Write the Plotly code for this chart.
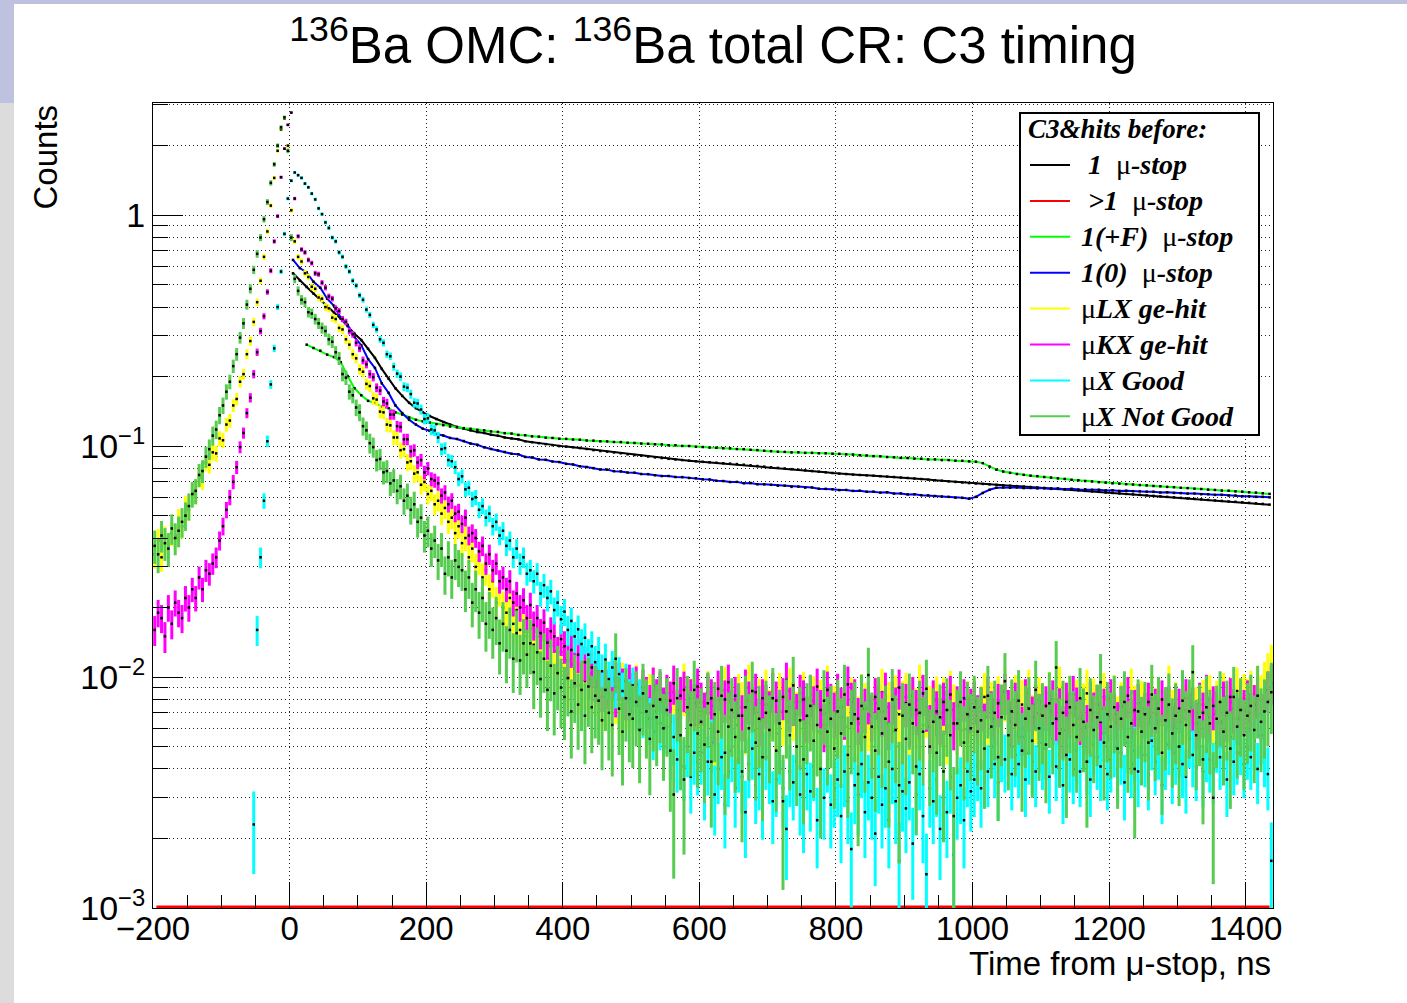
import math
import plotly.graph_objects as go

# ---------------------------------------------------------------- text
TITLE = "<sup>136</sup>Ba OMC: <sup>136</sup>Ba total CR: C3 timing"
X_TITLE = "Time from μ-stop, ns"
Y_TITLE = "Counts"
LEGEND_TITLE = "C3&amp;hits before:"
SERIES_NAMES = [" 1  μ-stop", " >1  μ-stop", "1(+F)  μ-stop", "1(0)  μ-stop",
                "μLX ge-hit", "μKX ge-hit", "μX Good", "μX Not Good"]
SERIES_COLORS = ["#000000", "#ff0000", "#00ff00", "#0000ff",
                 "#ffff00", "#ff00ff", "#00ffff", "#56cc50"]

# ---------------------------------------------------------------- axes
X_RANGE = [-200, 1440]
Y_MIN = 1e-3
Y_MAX = 3.06
Y_TICKS = [1e-3, 1e-2, 1e-1, 1]
Y_TICK_TEXT = ["10<sup>−3</sup>", "10<sup>−2</sup>", "10<sup>−1</sup>", "1"]

# ---------------------------------------------------------------- data
# fine histograms: 5 ns bins from -200 ns
FINE_START = -200.0
FINE_WIDTH = 5.0
# smooth histograms: 10 ns bins from 0 ns
COARSE_START = 0.0
COARSE_WIDTH = 10.0
# >1 mu-stop histogram: 10 ns bins from -200 ns
MULTI_START = -200.0
MULTI_WIDTH = 10.0

# "1 mu-stop"
ONE_STOP = [
    0.560, 0.521, 0.489, 0.458, 0.431, 0.404, 0.379, 0.356, 0.331, 0.307,
    0.288, 0.264, 0.241, 0.216, 0.196, 0.178, 0.165, 0.154, 0.146, 0.140,
    0.135, 0.131, 0.127, 0.124, 0.121, 0.119, 0.117, 0.115, 0.114, 0.112,
    0.111, 0.109, 0.108, 0.107, 0.105, 0.104, 0.103, 0.102, 0.101, 0.100,
    0.0995, 0.0989, 0.0981, 0.0972, 0.0961, 0.0952, 0.0946, 0.0939, 0.0931, 0.0922,
    0.0915, 0.0909, 0.0901, 0.0894, 0.0888, 0.0881, 0.0875, 0.0870, 0.0865, 0.0860,
    0.0855, 0.0851, 0.0847, 0.0843, 0.0840, 0.0836, 0.0831, 0.0826, 0.0820, 0.0815,
    0.0810, 0.0805, 0.0800, 0.0795, 0.0790, 0.0785, 0.0780, 0.0775, 0.0770, 0.0765,
    0.0760, 0.0757, 0.0753, 0.0750, 0.0747, 0.0744, 0.0741, 0.0738, 0.0735, 0.0731,
    0.0728, 0.0724, 0.0720, 0.0716, 0.0712, 0.0708, 0.0704, 0.0700, 0.0696, 0.0692,
    0.0689, 0.0686, 0.0683, 0.0680, 0.0677, 0.0674, 0.0671, 0.0668, 0.0665, 0.0662,
    0.0659, 0.0656, 0.0653, 0.0650, 0.0647, 0.0644, 0.0640, 0.0637, 0.0634, 0.0630,
    0.0627, 0.0624, 0.0621, 0.0618, 0.0615, 0.0612, 0.0609, 0.0606, 0.0603, 0.0600,
    0.0597, 0.0594, 0.0591, 0.0588, 0.0585, 0.0582, 0.0579, 0.0576, 0.0574, 0.0571,
    0.0568, 0.0565, 0.0562, 0.0558,
]

# ">1 mu-stop" (empty histogram)
MULTI_STOP = [0.0] * 164

# "1(+F) mu-stop"
PLUS_F = [
    None, None, 0.275, 0.266, 0.259, 0.249, 0.243, 0.231, 0.201, 0.178,
    0.166, 0.157, 0.154, 0.148, 0.146, 0.140, 0.137, 0.133, 0.130, 0.128,
    0.1265, 0.1245, 0.1232, 0.1216, 0.1208, 0.1196, 0.1188, 0.1176, 0.1170, 0.1158,
    0.1152, 0.1138, 0.1133, 0.1118, 0.1114, 0.1102, 0.1099, 0.1088, 0.1085, 0.1077,
    0.1075, 0.1068, 0.1066, 0.1058, 0.1056, 0.1049, 0.1048, 0.1042, 0.1041, 0.1034,
    0.1032, 0.1026, 0.1024, 0.1018, 0.1017, 0.1009, 0.1009, 0.1002, 0.1001, 0.0994,
    0.0991, 0.0986, 0.0984, 0.0979, 0.0978, 0.0971, 0.0970, 0.0964, 0.0961, 0.0955,
    0.0951, 0.0946, 0.0944, 0.0939, 0.0940, 0.0935, 0.0935, 0.0931, 0.0931, 0.0927,
    0.0926, 0.0921, 0.0919, 0.0913, 0.0911, 0.0905, 0.0903, 0.0897, 0.0895, 0.0889,
    0.0888, 0.0883, 0.0882, 0.0876, 0.0876, 0.0870, 0.0870, 0.0865, 0.0864, 0.0859,
    0.0856, 0.0844, 0.0815, 0.0791, 0.0776, 0.0766, 0.0757, 0.0751, 0.0745, 0.0741,
    0.0735, 0.0731, 0.0725, 0.0721, 0.0715, 0.0711, 0.0706, 0.0703, 0.0698, 0.0695,
    0.0690, 0.0688, 0.0684, 0.0682, 0.0678, 0.0676, 0.0672, 0.0670, 0.0666, 0.0664,
    0.0660, 0.0658, 0.0654, 0.0652, 0.0648, 0.0646, 0.0642, 0.0641, 0.0637, 0.0635,
    0.0631, 0.0629, 0.0625, 0.0621,
]

# "1(0) mu-stop"
ZERO_STOP = [
    0.640, 0.590, 0.565, 0.515, 0.485, 0.435, 0.405, 0.360, 0.335, 0.297,
    0.273, 0.238, 0.218, 0.187, 0.170, 0.150, 0.139, 0.130, 0.124, 0.119,
    0.1165, 0.1128, 0.1112, 0.1085, 0.1074, 0.1052, 0.1026, 0.1013, 0.0988, 0.0972,
    0.0958, 0.0943, 0.0927, 0.0922, 0.0898, 0.0893, 0.0876, 0.0872, 0.0858, 0.0853,
    0.0838, 0.0833, 0.0818, 0.0812, 0.0803, 0.0792, 0.0791, 0.0779, 0.0777, 0.0768,
    0.0767, 0.0757, 0.0756, 0.0748, 0.0742, 0.0742, 0.0735, 0.0734, 0.0728, 0.0726,
    0.0718, 0.0717, 0.0708, 0.0706, 0.0699, 0.0700, 0.0691, 0.0692, 0.0684, 0.0683,
    0.0680, 0.0674, 0.0674, 0.0666, 0.0668, 0.0661, 0.0662, 0.0654, 0.0653, 0.0650,
    0.0645, 0.0646, 0.0640, 0.0641, 0.0635, 0.0635, 0.0629, 0.0631, 0.0623, 0.0624,
    0.0618, 0.0619, 0.0613, 0.0612, 0.0608, 0.0605, 0.0603, 0.0598, 0.0597, 0.0592,
    0.0603, 0.0627, 0.0647, 0.0660, 0.0662, 0.0660, 0.0662, 0.0658, 0.0659, 0.0656,
    0.0657, 0.0653, 0.0655, 0.0651, 0.0653, 0.0649, 0.0650, 0.0647, 0.0647, 0.0643,
    0.0644, 0.0640, 0.0641, 0.0638, 0.0637, 0.0635, 0.0634, 0.0630, 0.0631, 0.0627,
    0.0626, 0.0623, 0.0623, 0.0619, 0.0619, 0.0615, 0.0615, 0.0611, 0.0611, 0.0607,
    0.0606, 0.0603, 0.0603, 0.0600,
]

# "muLX ge-hit"
MU_LX = [
    0.034, 0.039, 0.033, 0.040, 0.037, 0.042, 0.041, 0.048, 0.045, 0.055,
    0.053, 0.063, 0.062, 0.073, 0.071, 0.085, 0.083, 0.094, 0.093, 0.108,
    0.106, 0.124, 0.129, 0.150, 0.160, 0.190, 0.205, 0.250, 0.285, 0.345,
    0.42, 0.52, 0.66, 0.85, 1.10, 1.45, 1.90, 2.35, 2.62, 2.00,
    1.05, 0.77, 0.66, 0.63, 0.56, 0.54, 0.49, 0.48, 0.44, 0.435,
    0.40, 0.395, 0.36, 0.355, 0.325, 0.32, 0.29, 0.275, 0.25, 0.24,
    0.215, 0.21, 0.186, 0.182, 0.161, 0.159, 0.141, 0.140, 0.124, 0.123,
    0.109, 0.109, 0.096, 0.097, 0.085, 0.086, 0.076, 0.077, 0.068, 0.070,
    0.062, 0.064, 0.056, 0.058, 0.051, 0.054, 0.047, 0.049, 0.042, 0.045,
    0.038, 0.040, 0.033, 0.036, 0.030, 0.032, 0.027, 0.029, 0.024, 0.026,
    0.021, 0.024, 0.020, 0.019, 0.022, 0.017, 0.0195, 0.016, 0.0175, 0.015,
    0.0162, 0.0138, 0.0150, 0.0126, 0.0145, 0.0121, 0.0136, 0.0130, 0.0112, 0.0128,
    0.0120, 0.0098, 0.0114, 0.0108, 0.0092, 0.0110, 0.0096, 0.0088, 0.0104, 0.0091,
    0.0099, 0.0082, 0.0094, 0.0079, 0.0097, 0.0085, 0.0076, 0.0092, 0.0081, 0.0088,
    0.0079, 0.0090, 0.0072, 0.0084, 0.0068, 0.0081, 0.0087, 0.0070, 0.0078, 0.0065,
    0.0080, 0.0073, 0.0086, 0.0066, 0.0075, 0.0091, 0.0069, 0.0077, 0.0062, 0.0083,
    0.0071, 0.0064, 0.0084, 0.0075, 0.0058, 0.0079, 0.0069, 0.0088, 0.0067, 0.0073,
    0.0062, 0.0081, 0.0074, 0.0066, 0.0090, 0.0070, 0.0059, 0.0077, 0.0072, 0.0085,
    0.0068, 0.0075, 0.0057, 0.0082, 0.0071, 0.0064, 0.0087, 0.0074, 0.0066, 0.0078,
    0.0083, 0.0063, 0.0072, 0.0079, 0.0058, 0.0076, 0.0069, 0.0089, 0.0065, 0.0071,
    0.0074, 0.0067, 0.0085, 0.0061, 0.0078, 0.0070, 0.0063, 0.0081, 0.0073, 0.0068,
    0.0060, 0.0077, 0.0071, 0.0086, 0.0066, 0.0074, 0.0058, 0.0080, 0.0069, 0.0075,
    0.0082, 0.0065, 0.0073, 0.0069, 0.0090, 0.0062, 0.0076, 0.0071, 0.0064, 0.0079,
    0.0070, 0.0078, 0.0061, 0.0084, 0.0072, 0.0066, 0.0080, 0.0059, 0.0075, 0.0068,
    0.0077, 0.0063, 0.0071, 0.0082, 0.0067, 0.0074, 0.0060, 0.0079, 0.0070, 0.0087,
    0.0066, 0.0073, 0.0080, 0.0062, 0.0076, 0.0069, 0.0085, 0.0064, 0.0072, 0.0078,
    0.0071, 0.0059, 0.0083, 0.0070, 0.0065, 0.0088, 0.0074, 0.0067, 0.0079, 0.0062,
    0.0076, 0.0068, 0.0073, 0.0085, 0.0061, 0.0077, 0.0070, 0.0064, 0.0082, 0.0072,
    0.0067, 0.0080, 0.0063, 0.0074, 0.0078, 0.0060, 0.0086, 0.0071, 0.0066, 0.0075,
    0.0073, 0.0065, 0.0081, 0.0069, 0.0077, 0.0062, 0.0070, 0.0089, 0.0068, 0.0074,
    0.0064, 0.0079, 0.0072, 0.0067, 0.0084, 0.0070, 0.0061, 0.0076, 0.0073, 0.0080,
    0.0069, 0.0075, 0.0063, 0.0082, 0.0071, 0.0078, 0.0066, 0.0087, 0.0074, 0.0081,
    0.0077, 0.0084, 0.0072, 0.0089, 0.0080, 0.0093, 0.0102, 0.0112,
]

# "muKX ge-hit"
MU_KX = [
    0.016, 0.019, 0.018, 0.015, 0.020, 0.017, 0.021, 0.019, 0.018, 0.022,
    0.020, 0.024, 0.022, 0.027, 0.024, 0.029, 0.028, 0.031, 0.033, 0.039,
    0.045, 0.053, 0.060, 0.070, 0.081, 0.099, 0.114, 0.139, 0.162, 0.205,
    0.255, 0.315, 0.365, 0.465, 0.575, 0.77, 0.99, 1.46, 1.94, 2.46,
    2.78, 1.18, 0.81, 0.71, 0.69, 0.64, 0.62, 0.56, 0.555, 0.51,
    0.485, 0.445, 0.435, 0.395, 0.385, 0.355, 0.345, 0.315, 0.305, 0.28,
    0.265, 0.235, 0.226, 0.205, 0.199, 0.179, 0.174, 0.156, 0.153, 0.137,
    0.137, 0.122, 0.121, 0.107, 0.107, 0.095, 0.096, 0.085, 0.087, 0.077,
    0.080, 0.072, 0.071, 0.069, 0.061, 0.063, 0.056, 0.058, 0.051, 0.052,
    0.046, 0.049, 0.041, 0.042, 0.040, 0.035, 0.037, 0.031, 0.034, 0.029,
    0.031, 0.026, 0.027, 0.024, 0.026, 0.021, 0.023, 0.020, 0.0215, 0.018,
    0.0205, 0.0168, 0.0180, 0.0155, 0.0172, 0.0141, 0.0158, 0.0150, 0.0128, 0.0146,
    0.0136, 0.0118, 0.0131, 0.0109, 0.0125, 0.0104, 0.0116, 0.0098, 0.0110, 0.0096,
    0.0108, 0.0088, 0.0103, 0.0090, 0.0099, 0.0084, 0.0097, 0.0091, 0.0082, 0.0095,
    0.0087, 0.0093, 0.0079, 0.0090, 0.0083, 0.0076, 0.0092, 0.0081, 0.0088, 0.0074,
    0.0085, 0.0079, 0.0094, 0.0072, 0.0083, 0.0088, 0.0069, 0.0081, 0.0077, 0.0091,
    0.0078, 0.0070, 0.0086, 0.0081, 0.0066, 0.0089, 0.0075, 0.0080, 0.0095, 0.0072,
    0.0083, 0.0077, 0.0068, 0.0090, 0.0079, 0.0073, 0.0086, 0.0065, 0.0081, 0.0076,
    0.0071, 0.0087, 0.0079, 0.0064, 0.0082, 0.0097, 0.0074, 0.0078, 0.0069, 0.0085,
    0.0080, 0.0067, 0.0084, 0.0075, 0.0091, 0.0072, 0.0062, 0.0088, 0.0077, 0.0070,
    0.0086, 0.0074, 0.0069, 0.0093, 0.0078, 0.0081, 0.0066, 0.0084, 0.0073, 0.0079,
    0.0068, 0.0082, 0.0076, 0.0071, 0.0087, 0.0063, 0.0079, 0.0074, 0.0090, 0.0070,
    0.0077, 0.0065, 0.0083, 0.0072, 0.0069, 0.0085, 0.0074, 0.0061, 0.0080, 0.0071,
    0.0066, 0.0078, 0.0072, 0.0084, 0.0063, 0.0075, 0.0070, 0.0081, 0.0067, 0.0073,
    0.0079, 0.0068, 0.0074, 0.0062, 0.0083, 0.0071, 0.0066, 0.0077, 0.0069, 0.0086,
    0.0072, 0.0064, 0.0078, 0.0070, 0.0060, 0.0081, 0.0074, 0.0067, 0.0076, 0.0069,
    0.0063, 0.0075, 0.0071, 0.0080, 0.0066, 0.0073, 0.0059, 0.0078, 0.0070, 0.0084,
    0.0074, 0.0066, 0.0072, 0.0061, 0.0079, 0.0070, 0.0076, 0.0064, 0.0073, 0.0068,
    0.0081, 0.0069, 0.0063, 0.0075, 0.0071, 0.0083, 0.0065, 0.0072, 0.0077, 0.0062,
    0.0070, 0.0078, 0.0067, 0.0073, 0.0064, 0.0080, 0.0071, 0.0075, 0.0060, 0.0076,
    0.0073, 0.0066, 0.0081, 0.0069, 0.0074, 0.0063, 0.0078, 0.0070, 0.0085, 0.0067,
    0.0075, 0.0071, 0.0064, 0.0079, 0.0068, 0.0082, 0.0073, 0.0066, 0.0077, 0.0072,
    0.0080, 0.0070, 0.0076, 0.0083, 0.0069, 0.0078, 0.0088, 0.0094,
]

# "muX Good"
MU_GOOD = [
    0, 0, 0, 0, 0, 0, 0, 0, 0, 0,
    0, 0, 0, 0, 0, 0, 0, 0, 0, 0,
    0, 0, 0, 0, 0, 0, 0, 0, 0, 0.0023,
    0.016, 0.033, 0.058, 0.105, 0.185, 0.265, 0.40, 0.57, 0.83, 1.18,
    1.41, 1.53, 1.49, 1.45, 1.37, 1.32, 1.24, 1.17, 1.07, 1.01,
    0.93, 0.88, 0.80, 0.77, 0.69, 0.66, 0.60, 0.57, 0.52, 0.495,
    0.45, 0.43, 0.39, 0.37, 0.335, 0.32, 0.29, 0.28, 0.25, 0.245,
    0.221, 0.206, 0.200, 0.181, 0.179, 0.168, 0.154, 0.153, 0.144, 0.131,
    0.132, 0.118, 0.117, 0.109, 0.097, 0.098, 0.087, 0.086, 0.081, 0.072,
    0.074, 0.065, 0.066, 0.059, 0.060, 0.053, 0.055, 0.049, 0.051, 0.045,
    0.047, 0.041, 0.043, 0.037, 0.039, 0.033, 0.036, 0.031, 0.033, 0.028,
    0.029, 0.026, 0.028, 0.023, 0.025, 0.022, 0.0235, 0.0195, 0.021, 0.0178,
    0.0192, 0.0160, 0.0175, 0.0150, 0.0161, 0.0139, 0.0148, 0.0125, 0.0136, 0.0116,
    0.0128, 0.0106, 0.0119, 0.0098, 0.0110, 0.0091, 0.0103, 0.0087, 0.0096, 0.0081,
    0.0092, 0.0075, 0.0081, 0.0070, 0.0079, 0.0066, 0.0058, 0.0071, 0.0063, 0.0052,
    0.0061, 0.0049, 0.0055, 0.0044, 0.0053, 0.0041, 0.0050, 0.0037, 0.0047, 0.0043,
    0.0047, 0.0035, 0.0043, 0.0052, 0.0031, 0.0040, 0.0045, 0.0028, 0.0039, 0.0048,
    0.0033, 0.0044, 0.0037, 0.0026, 0.0042, 0.0049, 0.0034, 0.0038, 0.0030, 0.0045,
    0.0040, 0.0029, 0.0036, 0.0047, 0.0033, 0.0022, 0.0039, 0.0035, 0.0043, 0.0031,
    0.0027, 0.0038, 0.0032, 0.0041, 0.0024, 0.0035, 0.0030, 0.0044, 0.0028, 0.0033,
    0.0036, 0.0025, 0.0039, 0.0029, 0.0018, 0.0034, 0.0031, 0.0042, 0.0026, 0.0035,
    0.0030, 0.0021, 0.0037, 0.0028, 0.0033, 0.0024, 0.0040, 0.0029, 0.0016, 0.0032,
    0.0027, 0.0035, 0.0019, 0.0031, 0.0038, 0.0025, 0.0014, 0.0033, 0.0029, 0.0036,
    0.0022, 0.0031, 0.0026, 0.0037, 0.0017, 0.0030, 0.0034, 0.0024, 0.0039, 0.0032,
    0.0036, 0.0041, 0.0033, 0.0047, 0.0039, 0.0050, 0.0042, 0.0035, 0.0048, 0.0044,
    0.0051, 0.0038, 0.0046, 0.0042, 0.0055, 0.0036, 0.0047, 0.0043, 0.0039, 0.0052,
    0.0045, 0.0049, 0.0037, 0.0054, 0.0041, 0.0046, 0.0034, 0.0050, 0.0044, 0.0040,
    0.0048, 0.0039, 0.0053, 0.0043, 0.0036, 0.0051, 0.0045, 0.0041, 0.0057, 0.0038,
    0.0044, 0.0050, 0.0040, 0.0047, 0.0035, 0.0052, 0.0042, 0.0048, 0.0039, 0.0055,
    0.0046, 0.0038, 0.0053, 0.0043, 0.0049, 0.0034, 0.0045, 0.0051, 0.0040, 0.0047,
    0.0050, 0.0042, 0.0037, 0.0054, 0.0046, 0.0041, 0.0058, 0.0039, 0.0048, 0.0044,
    0.0040, 0.0052, 0.0045, 0.0049, 0.0036, 0.0055, 0.0043, 0.0047, 0.0051, 0.0042,
    0.0049, 0.0045, 0.0053, 0.0040, 0.0056, 0.0046, 0.0038, 0.0016,
]

# "muX Not Good"
MU_NOTGOOD = [
    0.037, 0.034, 0.041, 0.038, 0.036, 0.044, 0.040, 0.043, 0.047, 0.050,
    0.055, 0.062, 0.064, 0.075, 0.078, 0.090, 0.097, 0.111, 0.118, 0.136,
    0.150, 0.172, 0.190, 0.222, 0.250, 0.295, 0.340, 0.410, 0.480, 0.580,
    0.68, 0.80, 0.96, 1.14, 1.38, 1.66, 2.00, 2.40, 2.65, 1.90,
    0.80, 0.53, 0.47, 0.43, 0.42, 0.38, 0.375, 0.355, 0.34, 0.325,
    0.315, 0.29, 0.283, 0.255, 0.24, 0.205, 0.198, 0.172, 0.166, 0.147,
    0.140, 0.122, 0.117, 0.103, 0.099, 0.087, 0.088, 0.077, 0.078, 0.069,
    0.071, 0.064, 0.067, 0.058, 0.061, 0.053, 0.056, 0.047, 0.049, 0.041,
    0.043, 0.036, 0.039, 0.032, 0.036, 0.028, 0.033, 0.027, 0.032, 0.030,
    0.029, 0.024, 0.027, 0.021, 0.024, 0.019, 0.022, 0.017, 0.019, 0.016,
    0.018, 0.014, 0.017, 0.013, 0.016, 0.012, 0.0155, 0.0118, 0.014, 0.0125,
    0.014, 0.0105, 0.0128, 0.0098, 0.0120, 0.0088, 0.0112, 0.0085, 0.0104, 0.0090,
    0.0082, 0.0099, 0.0071, 0.0094, 0.0076, 0.0088, 0.0068, 0.0091, 0.0074, 0.0083,
    0.0079, 0.0065, 0.0088, 0.0070, 0.0062, 0.0120, 0.0073, 0.0058, 0.0081, 0.0069,
    0.0066, 0.0078, 0.0059, 0.0085, 0.0071, 0.0054, 0.0075, 0.0067, 0.0080, 0.0060,
    0.0072, 0.0048, 0.0031, 0.0081, 0.0056, 0.0036, 0.0074, 0.0062, 0.0088, 0.0057,
    0.0064, 0.0051, 0.0077, 0.0043, 0.0069, 0.0058, 0.0083, 0.0047, 0.0061, 0.0072,
    0.0055, 0.0068, 0.0039, 0.0074, 0.0060, 0.0087, 0.0052, 0.0066, 0.0045, 0.0070,
    0.0059, 0.0081, 0.0048, 0.0063, 0.0029, 0.0071, 0.0056, 0.0092, 0.0050, 0.0065,
    0.0044, 0.0068, 0.0075, 0.0053, 0.0062, 0.0040, 0.0079, 0.0058, 0.0066, 0.0049,
    0.0071, 0.0057, 0.0084, 0.0046, 0.0063, 0.0069, 0.0038, 0.0075, 0.0055, 0.0102,
    0.0061, 0.0048, 0.0073, 0.0057, 0.0066, 0.0043, 0.0080, 0.0059, 0.0034, 0.0068,
    0.0054, 0.0076, 0.0063, 0.0041, 0.0070, 0.0058, 0.0089, 0.0050, 0.0064, 0.0047,
    0.0067, 0.0039, 0.0072, 0.0056, 0.0025, 0.0063, 0.0078, 0.0052, 0.0069, 0.0060,
    0.0074, 0.0058, 0.0065, 0.0049, 0.0083, 0.0061, 0.0070, 0.0045, 0.0067, 0.0096,
    0.0056, 0.0071, 0.0062, 0.0079, 0.0048, 0.0066, 0.0073, 0.0053, 0.0088, 0.0060,
    0.0068, 0.0051, 0.0077, 0.0063, 0.0110, 0.0057, 0.0070, 0.0046, 0.0074, 0.0062,
    0.0055, 0.0081, 0.0064, 0.0043, 0.0072, 0.0059, 0.0067, 0.0095, 0.0052, 0.0069,
    0.0061, 0.0074, 0.0049, 0.0066, 0.0078, 0.0055, 0.0063, 0.0040, 0.0071, 0.0058,
    0.0069, 0.0052, 0.0084, 0.0060, 0.0073, 0.0047, 0.0065, 0.0076, 0.0057, 0.0068,
    0.0050, 0.0079, 0.0062, 0.0071, 0.0105, 0.0056, 0.0067, 0.0044, 0.0074, 0.0063,
    0.0030, 0.0066, 0.0078, 0.0058, 0.0070, 0.0049, 0.0082, 0.0061, 0.0072, 0.0056,
    0.0068, 0.0075, 0.0059, 0.0083, 0.0064, 0.0071, 0.0078, 0.0086,
]

# weight of one count in each normalised histogram (sets Poisson error bars)
COUNT_WEIGHT = {"LX": 6e-4, "KX": 3.5e-4, "GOOD": 3.5e-4, "NOTGOOD": 1e-3}

# ---------------------------------------------------------------- geometry
W, H = 1407, 1003
PL, PR, PT, PB = 153, 1273, 103, 908          # plot-area pixel box


def px_x(px):
    return (px - PL) / (PR - PL)


def px_y(py):
    return (PB - py) / (PB - PT)


def centers(start, width, n):
    return [start + width * (i + 0.5) for i in range(n)]


fig = go.Figure()

x_coarse = centers(COARSE_START, COARSE_WIDTH, len(ONE_STOP))


def smooth_trace(vals, color):
    return go.Scatter(
        x=x_coarse, y=vals, mode="lines+markers", connectgaps=False,
        line=dict(color=color, width=2),
        marker=dict(color="black", size=2.5, symbol="square"),
        hoverinfo="skip")


def noisy_trace(vals, color, weight):
    xs, ys, ep, em = [], [], [], []
    for x, v in zip(centers(FINE_START, FINE_WIDTH, len(vals)), vals):
        if v <= 0:
            continue
        e = math.sqrt(v * weight)
        xs.append(x)
        ys.append(v)
        ep.append(e)
        em.append(min(e, 0.97 * v))
    return go.Scatter(
        x=xs, y=ys, mode="markers",
        marker=dict(color="black", size=2.5, symbol="square"),
        error_y=dict(type="data", symmetric=False, array=ep, arrayminus=em,
                     color=color, thickness=3, width=0),
        hoverinfo="skip")


fig.add_trace(smooth_trace(ONE_STOP, SERIES_COLORS[0]))
x_multi = centers(MULTI_START, MULTI_WIDTH, len(MULTI_STOP))
fig.add_trace(go.Scatter(x=x_multi, y=[max(v, Y_MIN) for v in MULTI_STOP],
                         mode="lines", line=dict(color=SERIES_COLORS[1], width=5),
                         hoverinfo="skip"))
fig.add_trace(smooth_trace(PLUS_F, SERIES_COLORS[2]))
fig.add_trace(smooth_trace(ZERO_STOP, SERIES_COLORS[3]))
fig.add_trace(noisy_trace(MU_LX, SERIES_COLORS[4], COUNT_WEIGHT["LX"]))
fig.add_trace(noisy_trace(MU_KX, SERIES_COLORS[5], COUNT_WEIGHT["KX"]))
fig.add_trace(noisy_trace(MU_GOOD, SERIES_COLORS[6], COUNT_WEIGHT["GOOD"]))
fig.add_trace(noisy_trace(MU_NOTGOOD, SERIES_COLORS[7], COUNT_WEIGHT["NOTGOOD"]))

# ---------------------------------------------------------------- layout
minor_y = [m * 10 ** e for e in (-3, -2, -1, 0) for m in range(2, 10) if m * 10 ** e < Y_MAX]
GRID_DASH = "1px,3px"

fig.update_layout(
    width=W, height=H, autosize=False,
    margin=dict(l=PL, r=W - PR, t=PT, b=H - PB, pad=0),
    paper_bgcolor="white", plot_bgcolor="white", showlegend=False,
    font=dict(family="Liberation Sans, Arial, Helvetica, sans-serif", color="black"),
    title=dict(text=TITLE, x=0.5, xref="paper", xanchor="center",
               y=1 - 45 / H, yref="container", yanchor="middle",
               font=dict(size=51, color="black")),
)
fig.update_xaxes(
    range=X_RANGE, tick0=-200, dtick=200, ticks="inside", ticklen=26,
    tickwidth=1, tickcolor="black", tickfont=dict(size=33),
    ticklabelstandoff=-9,
    showgrid=True, gridcolor="#222", griddash=GRID_DASH, gridwidth=1,
    showline=True, linecolor="black", linewidth=1, mirror=True, zeroline=False,
    minor=dict(dtick=50, tick0=-200, ticks="inside", ticklen=13,
               tickcolor="black", tickwidth=1, showgrid=False),
)
fig.update_yaxes(
    type="log", range=[math.log10(Y_MIN), math.log10(Y_MAX)],
    tickmode="array", tickvals=Y_TICKS, ticktext=Y_TICK_TEXT,
    ticks="inside", ticklen=30, tickwidth=1, tickcolor="black",
    tickfont=dict(size=34),
    showgrid=True, gridcolor="#222", griddash=GRID_DASH, gridwidth=1,
    showline=True, linecolor="black", linewidth=1, mirror=True, zeroline=False,
    minor=dict(tickmode="array", tickvals=minor_y, ticks="inside", ticklen=15,
               tickcolor="black", tickwidth=1, showgrid=True,
               gridcolor="#222", griddash=GRID_DASH, gridwidth=1),
)

shapes = []
annotations = []

# canvas frame strips (window decoration)
shapes.append(dict(type="rect", xref="paper", yref="paper",
                   x0=px_x(0), x1=px_x(W), y0=px_y(0), y1=px_y(4),
                   fillcolor="#bfc2de", line=dict(width=0), layer="below"))
shapes.append(dict(type="rect", xref="paper", yref="paper",
                   x0=px_x(0), x1=px_x(14), y0=px_y(0), y1=px_y(103),
                   fillcolor="#bfc2de", line=dict(width=0), layer="below"))
shapes.append(dict(type="rect", xref="paper", yref="paper",
                   x0=px_x(0), x1=px_x(14), y0=px_y(103), y1=px_y(H),
                   fillcolor="#dcdcdc", line=dict(width=0), layer="below"))

# axis titles
annotations.append(dict(text=X_TITLE, xref="paper", yref="paper",
                        x=1.0, y=px_y(963), xanchor="right", yanchor="middle",
                        showarrow=False, font=dict(size=33, color="black")))
annotations.append(dict(text=Y_TITLE, xref="paper", yref="paper",
                        x=px_x(45), y=1.0, xanchor="center", yanchor="top",
                        textangle=-90, showarrow=False,
                        font=dict(size=33, color="black")))

# legend box
LEG_X0, LEG_X1, LEG_Y0, LEG_Y1 = 1020, 1259, 113, 435
shapes.append(dict(type="rect", xref="paper", yref="paper",
                   x0=px_x(LEG_X0), x1=px_x(LEG_X1), y0=px_y(LEG_Y1), y1=px_y(LEG_Y0),
                   fillcolor="white", line=dict(color="black", width=2), layer="above"))
SERIF = "Liberation Serif, Times New Roman, serif"
annotations.append(dict(text="<b><i>" + LEGEND_TITLE.replace(" ", "\u00a0") + "</i></b>",
                        xref="paper", yref="paper", x=px_x(1026), y=px_y(129),
                        xanchor="left", yanchor="middle", showarrow=False,
                        font=dict(size=27, family=SERIF, color="black")))


def legend_html(label):
    parts = label.split("μ")
    out = []
    for i, p in enumerate(parts):
        if i > 0:
            out.append("μ")
        if p:
            p = p.replace(">", "&gt;").replace(" ", "\u00a0")
            out.append("<b><i>" + p + "</i></b>")
    return "".join(out)


for k, (name, col) in enumerate(zip(SERIES_NAMES, SERIES_COLORS)):
    yc = 165 + 35.9 * k
    shapes.append(dict(type="line", xref="paper", yref="paper",
                       x0=px_x(1030), x1=px_x(1070), y0=px_y(yc), y1=px_y(yc),
                       line=dict(color=col, width=2), layer="above"))
    annotations.append(dict(text=legend_html(name), xref="paper", yref="paper",
                            x=px_x(1079), y=px_y(yc), xanchor="left", yanchor="middle",
                            showarrow=False,
                            font=dict(size=28, family=SERIF, color="black")))

fig.update_layout(shapes=shapes, annotations=annotations)
fig.write_html("out.html")
